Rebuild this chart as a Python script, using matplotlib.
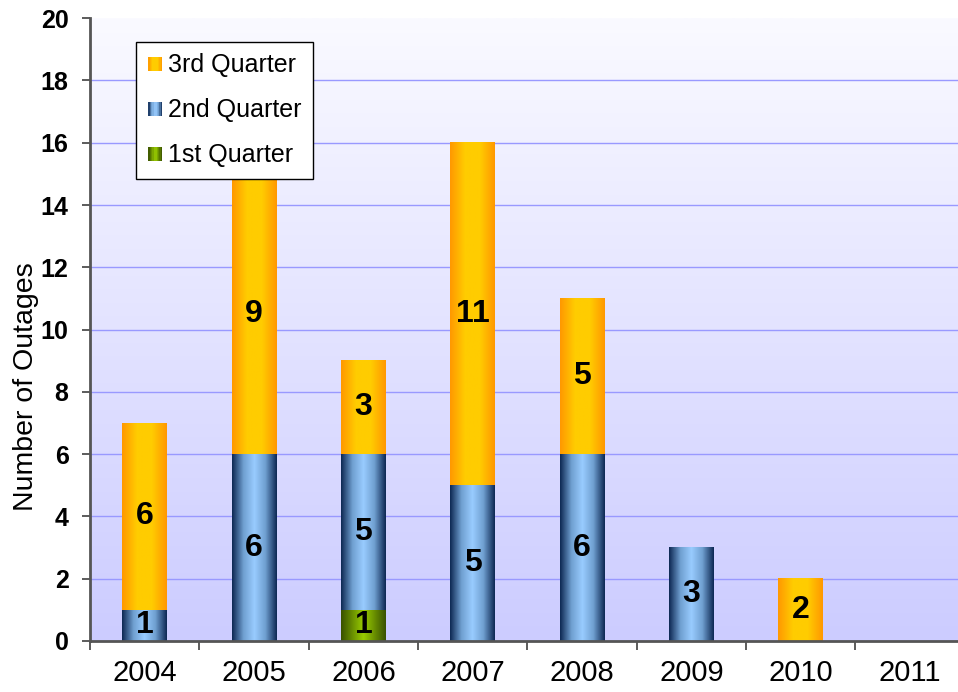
import numpy as np
import matplotlib.pyplot as plt
from matplotlib.colors import LinearSegmentedColormap
from matplotlib.legend_handler import HandlerBase
from matplotlib.patches import Rectangle

plt.rcParams['font.family'] = ['Liberation Sans', 'DejaVu Sans']

years = ['2004', '2005', '2006', '2007', '2008', '2009', '2010', '2011']
q1 = [0, 0, 1, 0, 0, 0, 0, 0]
q2 = [1, 6, 5, 5, 6, 3, 0, 0]
q3 = [6, 9, 3, 11, 5, 0, 2, 0]

series = [
    ('1st Quarter', q1, ['#3a5200', '#99cc00', '#3a5200']),
    ('2nd Quarter', q2, ['#0f2a55', '#6f9fd0', '#99ccff', '#6f9fd0', '#0f2a55']),
    ('3rd Quarter', q3, ['#ff9900', '#ffcc00', '#ffcc00', '#ff9900']),
]

width = 0.41
grad = np.linspace(0, 1, 64).reshape(1, -1)

fig = plt.figure(figsize=(9.58, 6.92), dpi=100)
ax = fig.add_axes([0.094, 0.0737, 0.913, 0.900])

# background gradient
bg = LinearSegmentedColormap.from_list('bg', ['#ccccff', '#fafaff'])
ax.imshow(np.linspace(0, 1, 256).reshape(-1, 1), cmap=bg, origin='lower',
          extent=[-0.5, len(years) - 0.5, 0, 20], aspect='auto', zorder=0)

for y in range(2, 20, 2):
    ax.axhline(y, color='#9999ff', lw=1, zorder=1)

x = np.arange(len(years))
bottom = np.zeros(len(years))
cmaps = {}
for name, vals, cols in series:
    cm = LinearSegmentedColormap.from_list(name, cols)
    cmaps[name] = cm
    for i, v in enumerate(vals):
        if v == 0:
            continue
        ax.imshow(grad, cmap=cm, aspect='auto', zorder=2,
                  extent=[x[i] - width / 2, x[i] + width / 2, bottom[i], bottom[i] + v])
        ax.text(x[i], bottom[i] + v / 2, str(v), ha='center', va='center',
                fontsize=23, fontweight='bold', zorder=3)
    bottom += np.array(vals)

ax.set_xlim(-0.5, len(years) - 0.5)
ax.set_ylim(0, 20)
ax.set_yticks(range(0, 21, 2))
ax.set_yticklabels([str(v) for v in range(0, 21, 2)], fontsize=18, fontweight='bold')
ax.set_xticks(x)
ax.set_xticklabels(years, fontsize=21)
ax.set_xticks(np.arange(-0.5, len(years), 1), minor=True)
ax.tick_params(axis='x', which='major', length=0, pad=13)
ax.tick_params(axis='x', which='minor', length=6.5, color='#404040', width=1.2)
ax.tick_params(axis='y', length=5.5, color='#404040', width=1.2, pad=10)
ax.set_ylabel('Number of Outages', fontsize=20.5)
ax.yaxis.set_label_coords(-0.058, 0.408)
for s in ['top', 'right']:
    ax.spines[s].set_visible(False)
ax.spines['left'].set_color('#555555')
ax.spines['bottom'].set_color('#555555')
ax.spines['left'].set_linewidth(2)
ax.spines['bottom'].set_linewidth(2)


class GradHandler(HandlerBase):
    def __init__(self, cm):
        super().__init__()
        self.cm = cm

    def create_artists(self, legend, orig, xd, yd, w, h, fontsize, trans):
        n = 10
        sq = h * 0.8
        x0 = xd + w - sq
        arts = []
        for k in range(n):
            r = Rectangle((x0 + k * sq / n, yd + 0.05 * h), sq / n + 0.2, sq,
                          facecolor=self.cm((k + 0.5) / n), edgecolor='none', transform=trans)
            arts.append(r)
        return arts


handles = []
hmap = {}
for name, vals, cols in reversed(series):
    h = Rectangle((0, 0), 1, 1, label=name)
    handles.append(h)
    hmap[h] = GradHandler(cmaps[name])

leg = ax.legend(handles=handles, handler_map=hmap, loc='upper left',
                bbox_to_anchor=(0.0525, 0.9625), fontsize=18, frameon=True,
                fancybox=False, borderpad=0.45, labelspacing=0.85,
                handlelength=0.6, handletextpad=0.25, borderaxespad=0)
leg.get_frame().set_edgecolor('black')
leg.get_frame().set_linewidth(1)
leg.get_frame().set_facecolor('white')
leg.get_frame().set_alpha(1)

fig.savefig('out.png', dpi=100)
